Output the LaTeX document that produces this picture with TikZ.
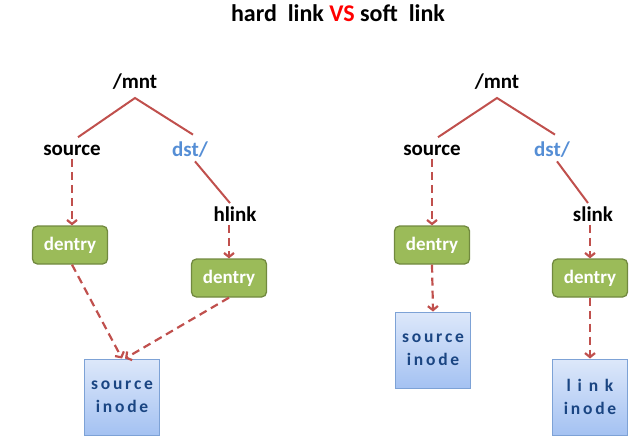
\documentclass[tikz,border=0pt]{standalone}
\usepackage{fontspec}
\setmainfont{Carlito}
\usetikzlibrary{arrows.meta}
\definecolor{linkred}{HTML}{C0504D}
\definecolor{vsred}{HTML}{FF0000}
\definecolor{dstblue}{HTML}{558ED5}
\definecolor{dentryfill}{HTML}{9BBB59}
\definecolor{dentryline}{HTML}{71893F}
\definecolor{inodetop}{HTML}{DDE8FA}
\definecolor{inodebot}{HTML}{A4C2F2}
\definecolor{inodeline}{HTML}{7DA2D6}
\definecolor{inodetext}{HTML}{1A4582}
\tikzset{
  pathname/.style={font=\bfseries\fontsize{21}{24}\selectfont},
  dentrybox/.style={draw=dentryline, fill=dentryfill, rounded corners=5pt, line width=1.3pt,
    minimum width=75pt, minimum height=38pt, text=white, font=\bfseries\fontsize{19}{22}\selectfont},
  inodebox/.style={draw=inodeline, top color=inodetop, bottom color=inodebot, line width=1pt,
    minimum width=75pt, minimum height=76pt, align=center, text=inodetext,
    font=\bfseries\fontsize{17.5}{23}\selectfont\addfontfeature{LetterSpace=16}},
  treeline/.style={linkred, line width=2pt},
  ptr/.style={-{Straight Barb[length=4pt,width=10pt]}, linkred, line width=2.2pt, dash pattern=on 8pt off 5pt}
}
\begin{document}
\begin{tikzpicture}[x=1pt,y=-1pt]
  \useasboundingbox (0,0) rectangle (640,442);
  \node[pathname, font=\bfseries\fontsize{24}{28}\selectfont] (title) at (338,13)
    {hard\ \ link \textcolor{vsred}{VS} soft\ \ link};

  % hard link
  \node[pathname] (mntL) at (135,82) {/mnt};
  \node[pathname] (srcL) at (72,150) {source};
  \node[pathname, text=dstblue] (dstL) at (190,150) {dst/};
  \node[pathname] (hlink) at (235,214) {hlink};
  \node[dentrybox] (dentL) at (70,245) {dentry};
  \node[dentrybox] (dentH) at (229,278) {dentry};
  \node[inodebox] (inodeL) at (122,397) {source\\inode};
  \coordinate (forkL) at (135,98);

  \draw[treeline] ([xshift=6pt,yshift=4pt]srcL.north) -- (forkL) -- ([xshift=3pt,yshift=4pt]dstL.north);
  \draw[treeline] ([xshift=5pt]dstL.south) -- ([xshift=-5pt]hlink.north);
  \draw[ptr] (srcL.south) -- (srcL.south |- dentL.north);
  \draw[ptr] (dentH.north |- hlink.south) -- (dentH.north);
  \draw[ptr] ([xshift=2pt]dentL.south) -- (inodeL.north);
  \draw[ptr] (dentH.south) -- ([xshift=3pt]inodeL.north);

  % soft link
  \node[pathname] (mntR) at (497,82) {/mnt};
  \node[pathname] (srcR) at (432,150) {source};
  \node[pathname, text=dstblue] (dstR) at (552,150) {dst/};
  \node[pathname] (slink) at (593,214) {slink};
  \node[dentrybox] (dentR) at (432,245) {dentry};
  \node[dentrybox] (dentS) at (590,278) {dentry};
  \node[inodebox] (inodeR) at (433,350) {source\\inode};
  \node[inodebox] (inodeS) at (590,397) {l i n k\\inode};
  \coordinate (forkR) at (497,98);

  \draw[treeline] ([xshift=6pt,yshift=4pt]srcR.north) -- (forkR) -- ([xshift=3pt,yshift=4pt]dstR.north);
  \draw[treeline] ([xshift=5pt]dstR.south) -- ([xshift=-5pt]slink.north);
  \draw[ptr] (srcR.south) -- (srcR.south |- dentR.north);
  \draw[ptr] (dentS.north |- slink.south) -- (dentS.north);
  \draw[ptr] (dentR.south) -- (inodeR.north);
  \draw[ptr] (dentS.south) -- (inodeS.north);
\end{tikzpicture}
\end{document}
